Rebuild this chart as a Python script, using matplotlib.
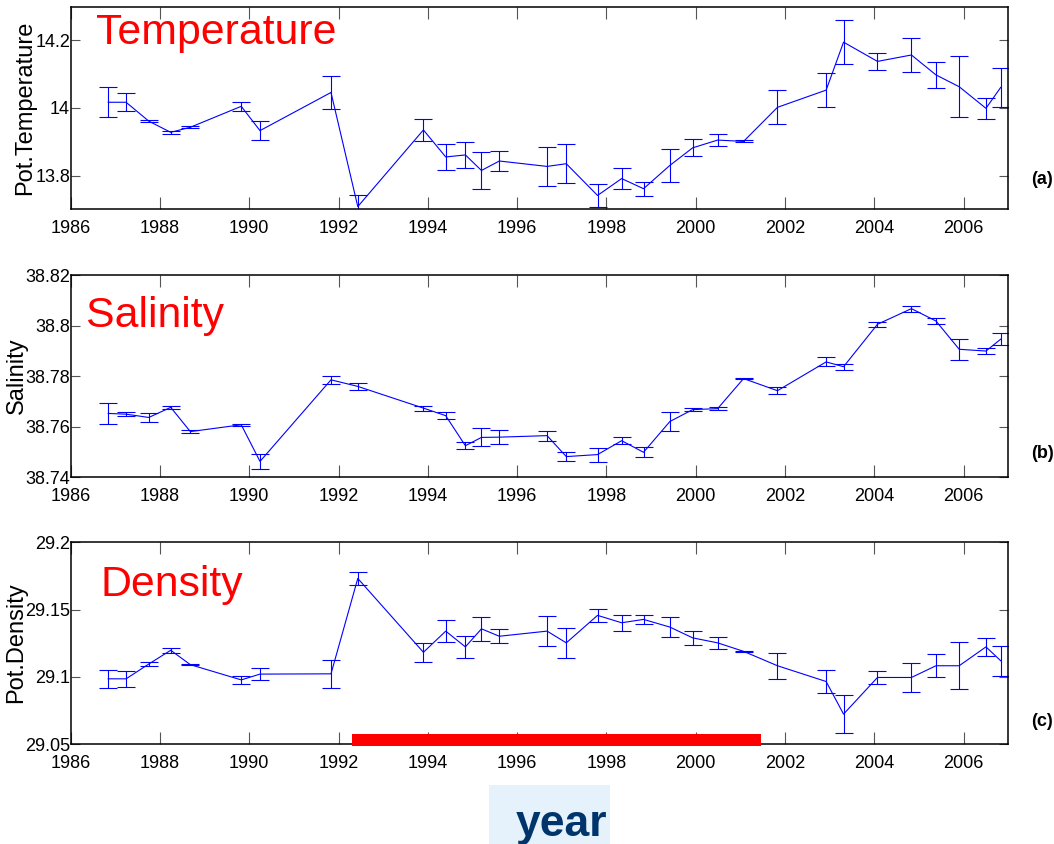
import matplotlib
matplotlib.use("Agg")
import matplotlib.pyplot as plt
from matplotlib import font_manager
from matplotlib.patches import Rectangle


def pick_font(*names):
    available = {f.name for f in font_manager.fontManager.ttflist}
    for name in names:
        if name in available:
            return name
    return None


SANS = pick_font("Liberation Sans", "Arial") or "DejaVu Sans"
NARROW = pick_font("Liberation Sans Narrow", "Arial Narrow")
plt.rcParams["font.family"] = [SANS, "DejaVu Sans"]

# ---- data -------------------------------------------------------------
years = [1986.84, 1987.24, 1987.75, 1988.24, 1988.68, 1989.82, 1990.24, 1991.83,
         1992.43, 1993.90, 1994.40, 1994.84, 1995.20, 1995.60, 1996.67, 1997.10,
         1997.80, 1998.34, 1998.83, 1999.42, 1999.93, 2000.49, 2001.07, 2001.83,
         2002.92, 2003.31, 2004.07, 2004.83, 2005.38, 2005.90, 2006.50, 2006.83]

temperature = [14.017, 14.017, 13.961, 13.928, 13.943, 14.005, 13.933, 14.046,
               13.708, 13.935, 13.855, 13.861, 13.815, 13.843, 13.827, 13.835,
               13.741, 13.791, 13.761, 13.830, 13.882, 13.905, 13.901, 14.002,
               14.053, 14.195, 14.138, 14.157, 14.098, 14.063, 13.999, 14.061]
temperature_err = [0.045, 0.027, 0.003, 0.004, 0.003, 0.014, 0.029, 0.049,
                   0.033, 0.033, 0.038, 0.039, 0.054, 0.029, 0.058, 0.058,
                   0.033, 0.032, 0.021, 0.050, 0.025, 0.019, 0.003, 0.050,
                   0.050, 0.065, 0.024, 0.050, 0.039, 0.090, 0.032, 0.057]

salinity = [38.7653, 38.7650, 38.7637, 38.7677, 38.7581, 38.7608, 38.7463, 38.7786,
            38.7760, 38.7674, 38.7644, 38.7525, 38.7558, 38.7559, 38.7565, 38.7482,
            38.7490, 38.7545, 38.7499, 38.7621, 38.7668, 38.7672, 38.7791, 38.7743,
            38.7857, 38.7838, 38.8006, 38.8068, 38.8019, 38.7907, 38.7900, 38.7947]
salinity_err = [0.0042, 0.0007, 0.0018, 0.0007, 0.0007, 0.0003, 0.0030, 0.0017,
                0.0015, 0.0010, 0.0014, 0.0014, 0.0036, 0.0027, 0.0020, 0.0018,
                0.0028, 0.0015, 0.0020, 0.0039, 0.0006, 0.0005, 0.0003, 0.0014,
                0.0018, 0.0012, 0.0009, 0.0012, 0.0011, 0.0042, 0.0013, 0.0023]

density = [29.0986, 29.0986, 29.1096, 29.1198, 29.1091, 29.0978, 29.1021, 29.1023,
           29.1731, 29.1183, 29.1340, 29.1223, 29.1357, 29.1302, 29.1340, 29.1253,
           29.1457, 29.1402, 29.1427, 29.1370, 29.1290, 29.1253, 29.1190, 29.1083,
           29.0966, 29.0724, 29.0996, 29.0996, 29.1083, 29.1083, 29.1223, 29.1120]
density_err = [0.0065, 0.0060, 0.0014, 0.0017, 0.0006, 0.0030, 0.0045, 0.0103,
               0.0050, 0.0069, 0.0079, 0.0079, 0.0091, 0.0051, 0.0112, 0.0112,
               0.0047, 0.0059, 0.0032, 0.0077, 0.0050, 0.0042, 0.0003, 0.0097,
               0.0087, 0.0142, 0.0047, 0.0105, 0.0087, 0.0173, 0.0064, 0.0110]

x_ticks = list(range(1986, 2007, 2))

temp_ticks = [13.8, 14.0, 14.2]
temp_labels = ["13.8", "14", "14.2"]
sal_ticks = [38.74, 38.76, 38.78, 38.80, 38.82]
sal_labels = ["38.74", "38.76", "38.78", "38.8", "38.82"]
dens_ticks = [29.05, 29.10, 29.15, 29.20]
dens_labels = ["29.05", "29.1", "29.15", "29.2"]

# highlighted period on the density panel
period_start = 1992.30
period_end = 2001.46

# ---- figure -----------------------------------------------------------
W, H = 1054, 844
fig = plt.figure(figsize=(W / 100, H / 100), dpi=100)


def axes_px(left, top, right, bottom):
    return fig.add_axes([left / W, 1 - bottom / H, (right - left) / W, (bottom - top) / H])


panels = [
    dict(box=(70.7, 6.7, 1008.3, 209.3), y=temperature, err=temperature_err,
         ylim=(13.7, 14.3), ticks=temp_ticks, labels=temp_labels,
         ylabel="Pot.Temperature", ylab_xy=(25, 108),
         title="Temperature", title_xy=(96, 44), tag="(a)", tag_y=180),
    dict(box=(70.7, 275.3, 1008.3, 477.3), y=salinity, err=salinity_err,
         ylim=(38.74, 38.82), ticks=sal_ticks, labels=sal_labels,
         ylabel="Salinity", ylab_xy=(16.7, 376),
         title="Salinity", title_xy=(86, 327.5), tag="(b)", tag_y=454),
    dict(box=(70.7, 542.2, 1008.3, 744.3), y=density, err=density_err,
         ylim=(29.05, 29.2), ticks=dens_ticks, labels=dens_labels,
         ylabel="Pot.Density", ylab_xy=(16, 643),
         title="Density", title_xy=(101, 596), tag="(c)", tag_y=722),
]

axes = []
for p in panels:
    ax = axes_px(*p["box"])
    ax.errorbar(years, p["y"], yerr=p["err"], color="blue", lw=0.8,
                elinewidth=0.8, capsize=6.3, capthick=0.8)
    ax.set_xlim(1986, 2007)
    ax.set_ylim(*p["ylim"])
    ax.set_xticks(x_ticks)
    ax.set_xticklabels([str(t) for t in x_ticks])
    ax.set_yticks(p["ticks"])
    ax.set_yticklabels(p["labels"])
    ax.tick_params(axis="both", direction="in", top=True, right=True,
                   color="#555555", width=0.8, labelsize=13)
    ax.tick_params(axis="x", length=8.6, pad=8)
    ax.tick_params(axis="y", length=6.5, pad=0.5)
    for s in ax.spines.values():
        s.set_linewidth(1.1)
        s.set_color("black")

    fig.text(p["ylab_xy"][0] / W, 1 - p["ylab_xy"][1] / H, p["ylabel"],
             rotation=90, ha="center", va="center", fontsize=17)
    fig.text(p["title_xy"][0] / W, 1 - p["title_xy"][1] / H, p["title"],
             color="red", fontsize=30.8, ha="left", va="baseline")
    fig.text(1042 / W, 1 - p["tag_y"] / H, p["tag"], fontsize=13,
             fontweight="bold", ha="center", va="center")
    axes.append(ax)

# red bar marking the period along the bottom of the density panel
axes[2].broken_barh([(period_start, period_end - period_start)], (29.0485, 0.0095),
                    facecolors="red", clip_on=False, zorder=3)

# "year" caption on a pale blue block
fig.patches.append(Rectangle((489 / W, 0), (610 - 489) / W, (844 - 785) / H,
                             transform=fig.transFigure, facecolor="#E5F2FC",
                             edgecolor="none", zorder=0))
if NARROW:
    year_family, year_size = [NARROW, SANS], 36
else:
    year_family, year_size = [SANS], 32
fig.text(561 / W, 1 - 836 / H, "year", ha="center", va="baseline",
         fontsize=year_size, fontweight="bold", family=year_family,
         color="#00356B")

fig.savefig("out.png", dpi=100)
